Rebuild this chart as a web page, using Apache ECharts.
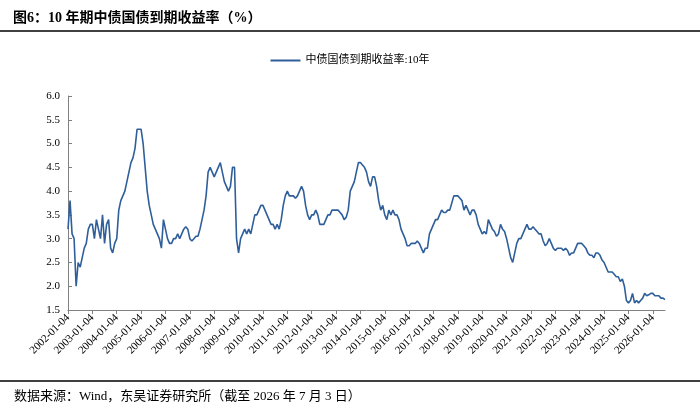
<!DOCTYPE html>
<html>
<head>
<meta charset="utf-8">
<script src="https://cdn.jsdelivr.net/npm/echarts@6/dist/echarts.min.js"></script>
<style>
  body { margin: 0; background: #fff; }
  #main { width: 700px; height: 418px; }
</style>
</head>
<body>
<div id="main"></div>
<script>
// 月度收益率(%)
const startYear = 2002;
const yields = [
  // 2002
  3.2, 3.8, 3.1, 3.0, 2.0, 2.5, 2.4, 2.6, 2.8, 2.9, 3.2, 3.3,
  // 2003
  3.3, 3.0, 3.4, 3.2, 3.0, 3.5, 2.9, 3.3, 3.4, 2.8, 2.7, 2.9,
  // 2004
  3.0, 3.6, 3.8, 3.9, 4.0, 4.2, 4.4, 4.6, 4.7, 4.9, 5.3, 5.3,
  // 2005
  5.3, 5.0, 4.5, 4.0, 3.7, 3.5, 3.3, 3.2, 3.1, 3.0, 2.8, 3.4,
  // 2006
  3.2, 3.0, 2.9, 2.9, 3.0, 3.0, 3.1, 3.0, 3.1, 3.2, 3.25, 3.2,
  // 2007
  3.0, 2.95, 3.0, 3.05, 3.05, 3.2, 3.4, 3.6, 3.9, 4.4, 4.5, 4.4,
  // 2008
  4.3, 4.4, 4.5, 4.6, 4.4, 4.2, 4.1, 4.0, 4.1, 4.5, 4.5, 3.0,
  // 2009
  2.7, 3.0, 3.1, 3.2, 3.1, 3.2, 3.1, 3.3, 3.5, 3.5, 3.6, 3.7,
  // 2010
  3.7, 3.6, 3.5, 3.4, 3.3, 3.3, 3.2, 3.3, 3.2, 3.4, 3.7, 3.9,
  // 2011
  4.0, 3.9, 3.9, 3.9, 3.85, 3.9, 4.0, 4.1, 4.0, 3.7, 3.5, 3.4,
  // 2012
  3.5, 3.5, 3.6, 3.5, 3.3, 3.3, 3.3, 3.4, 3.5, 3.5, 3.6, 3.6,
  // 2013
  3.6, 3.6, 3.55, 3.5, 3.4, 3.45, 3.6, 4.0, 4.1, 4.2, 4.4, 4.6,
  // 2014
  4.6, 4.55, 4.5, 4.4, 4.2, 4.1, 4.3, 4.3, 4.1, 3.8, 3.6, 3.7,
  // 2015
  3.5, 3.4, 3.6, 3.5, 3.6, 3.5, 3.5, 3.4, 3.2, 3.1, 3.0, 2.85,
  // 2016
  2.85, 2.9, 2.9, 2.9, 2.95, 2.9, 2.8, 2.7, 2.8, 2.8, 3.1, 3.2,
  // 2017
  3.3, 3.4, 3.4, 3.5, 3.6, 3.55, 3.55, 3.6, 3.6, 3.75, 3.9, 3.9,
  // 2018
  3.9, 3.85, 3.8, 3.6, 3.7, 3.6, 3.5, 3.6, 3.6, 3.5, 3.3, 3.2,
  // 2019
  3.1, 3.15, 3.1, 3.4, 3.3, 3.2, 3.15, 3.05, 3.1, 3.3, 3.2, 3.15,
  // 2020
  3.0, 2.8, 2.6, 2.5, 2.7, 2.9, 3.0, 3.0, 3.1, 3.2, 3.3, 3.2,
  // 2021
  3.2, 3.25, 3.2, 3.15, 3.1, 3.1, 2.95, 2.85, 2.9, 3.0, 2.9, 2.8,
  // 2022
  2.75, 2.8, 2.8, 2.8, 2.75, 2.8, 2.75, 2.65, 2.7, 2.7, 2.8, 2.9,
  // 2023
  2.9, 2.9, 2.85, 2.8, 2.7, 2.65, 2.65, 2.6, 2.7, 2.7, 2.65, 2.55,
  // 2024
  2.5, 2.4, 2.3, 2.3, 2.3, 2.25, 2.2, 2.2, 2.1, 2.15, 2.0, 1.7,
  // 2025
  1.65, 1.7, 1.85, 1.65, 1.7, 1.65, 1.7, 1.75, 1.85, 1.8, 1.82, 1.85,
  // 2026
  1.85, 1.8, 1.8, 1.8, 1.75, 1.75, 1.72
];

// 日期类目: YYYY-MM-04
const dates = yields.map((v, i) => {
  const y = startYear + Math.floor(i / 12);
  const m = (i % 12) + 1;
  return y + '-' + (m < 10 ? '0' + m : m) + '-04';
});

const serif = '"Liberation Serif", "Noto Sans CJK SC", serif';
const isJan = (idx, val) => val.slice(5, 7) === '01';

const chart = echarts.init(document.getElementById('main'));
chart.setOption({
  backgroundColor: '#fff',
  animation: false,
  title: {
    text: '图6：10 年期中债国债到期收益率（%）',
    left: 8, top: 6,
    textStyle: { fontFamily: serif, fontSize: 14, fontWeight: 'bold', color: '#000' }
  },
  legend: {
    top: 50, left: 'center',
    icon: 'path://M0,0 L30,0 L30,2 L0,2 Z',
    itemWidth: 30, itemHeight: 2,
    textStyle: { fontFamily: serif, fontSize: 11, color: '#000' },
    data: ['中债国债到期收益率:10年']
  },
  grid: { left: 68, right: 35, top: 96, bottom: 108 },
  xAxis: {
    type: 'category',
    data: dates,
    boundaryGap: false,
    axisLine: { lineStyle: { color: '#808080' } },
    axisTick: { interval: isJan, length: 4, lineStyle: { color: '#808080' } },
    axisLabel: {
      interval: isJan, rotate: 45, color: '#000',
      fontFamily: serif, fontSize: 11, margin: 6
    }
  },
  yAxis: {
    type: 'value',
    min: 1.5, max: 6.0, interval: 0.5,
    axisLine: { show: true, lineStyle: { color: '#808080' } },
    axisTick: { show: true, length: 4, inside: true, lineStyle: { color: '#808080' } },
    splitLine: { show: false },
    axisLabel: {
      color: '#000', fontFamily: serif, fontSize: 11,
      formatter: v => v.toFixed(1)
    }
  },
  series: [{
    name: '中债国债到期收益率:10年',
    type: 'line',
    data: yields,
    showSymbol: false,
    lineStyle: { color: '#2f5f9a', width: 1.6 },
    itemStyle: { color: '#2f5f9a' }
  }],
  graphic: [
    { type: 'line', shape: { x1: 0, y1: 31, x2: 700, y2: 31 }, style: { stroke: '#000', lineWidth: 1.5 } },
    { type: 'line', shape: { x1: 0, y1: 381, x2: 700, y2: 381 }, style: { stroke: '#000', lineWidth: 1.5 } },
    {
      type: 'text', left: 14, top: 390,
      style: { text: '数据来源：Wind，东吴证券研究所（截至 2026 年 7 月 3 日）', font: '13px ' + serif, fill: '#000' }
    }
  ]
});
</script>
</body>
</html>
